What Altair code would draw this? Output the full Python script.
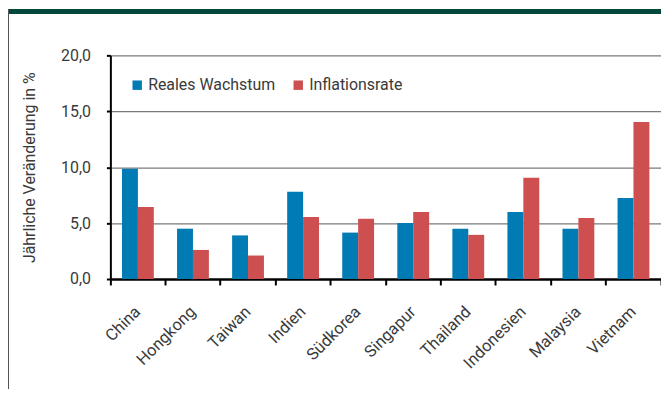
import altair as alt
import pandas as pd

countries = ["China", "Hongkong", "Taiwan", "Indien", "Südkorea", "Singapur",
             "Thailand", "Indonesien", "Malaysia", "Vietnam"]
series = ["Reales Wachstum", "Inflationsrate"]
wachstum = [9.85, 4.5, 3.9, 7.8, 4.15, 5.0, 4.5, 6.0, 4.5, 7.25]
inflation = [6.45, 2.6, 2.1, 5.55, 5.4, 6.0, 3.95, 9.05, 5.45, 14.05]
colors = ["#007bb4", "#cd4f4f"]
y_ticks = [0, 5, 10, 15, 20]

rows = []
for c, w, i in zip(countries, wachstum, inflation):
    rows.append({"Land": c, "Serie": series[0], "Wert": w})
    rows.append({"Land": c, "Serie": series[1], "Wert": i})
df = pd.DataFrame(rows)

FONT = "Roboto"
FW = 400
TXT = "#3a3a3a"
W, H = 554, 225
PL, PT = 103, 46.5

bars = alt.Chart(df).mark_bar().encode(
    x=alt.X("Land:N", sort=countries,
            scale=alt.Scale(paddingInner=0, paddingOuter=0),
            axis=alt.Axis(title=None, labelAngle=-45, labelAlign="right",
                          labelBaseline="middle", labelPadding=24,
                          bandPosition=1, tickExtra=True,
                          ticks=True, tickSize=6, tickWidth=2,
                          tickColor="#000", domainColor="#000", domainWidth=2.5,
                          labelFont=FONT, labelFontSize=16.5, labelFontWeight=FW,
                          labelColor=TXT, grid=False)),
    xOffset=alt.XOffset("Serie:N", sort=series,
                        scale=alt.Scale(paddingInner=0, paddingOuter=0.73)),
    y=alt.Y("Wert:Q", scale=alt.Scale(domain=[0, 20], nice=False),
            axis=alt.Axis(values=y_ticks,
                          labelExpr="replace(format(datum.value, '.1f'), '.', ',')",
                          title="Jährliche Veränderung in %",
                          titleFont=FONT, titleFontSize=16, titleFontWeight=FW,
                          titleColor=TXT, titleAngle=-90, titleX=-81, titleY=H / 2,
                          titleAlign="center", titleBaseline="middle",
                          labelFont=FONT, labelFontSize=16, labelFontWeight=FW,
                          labelColor=TXT, labelPadding=16,
                          tickSize=4, tickWidth=2, tickColor="#000",
                          domainColor="#000", domainWidth=2,
                          grid=True, gridColor="#7a7a7a", gridWidth=1.2)),
    color=alt.Color("Serie:N", sort=series,
                    scale=alt.Scale(domain=series, range=colors),
                    legend=alt.Legend(title=None, orient="none", direction="horizontal",
                                      legendX=19, legendY=22, symbolType="square",
                                      symbolSize=90, symbolStrokeWidth=0,
                                      labelFont=FONT, labelFontSize=16,
                                      labelFontWeight=FW, labelColor=TXT,
                                      labelOffset=3, columnPadding=15, padding=0)),
)

top_bar = alt.Chart(df).mark_rule(color="#00473c", strokeWidth=4).encode(
    x=alt.value(-PL), x2=alt.value(W), y=alt.value(-PT + 2)
)
left_line = alt.Chart(df).mark_rule(color="#555", strokeWidth=1).encode(
    x=alt.value(-PL + 0.5), y=alt.value(-PT), y2=alt.value(H + 110)
)

chart = alt.layer(top_bar, left_line, bars).properties(
    width=W, height=H,
    autosize=alt.AutoSizeParams(type="none"),
    padding={"left": PL, "top": PT, "right": 0, "bottom": 110},
).configure_view(stroke=None)

chart.save("out.html", embed_options={"renderer": "svg", "actions": False})
